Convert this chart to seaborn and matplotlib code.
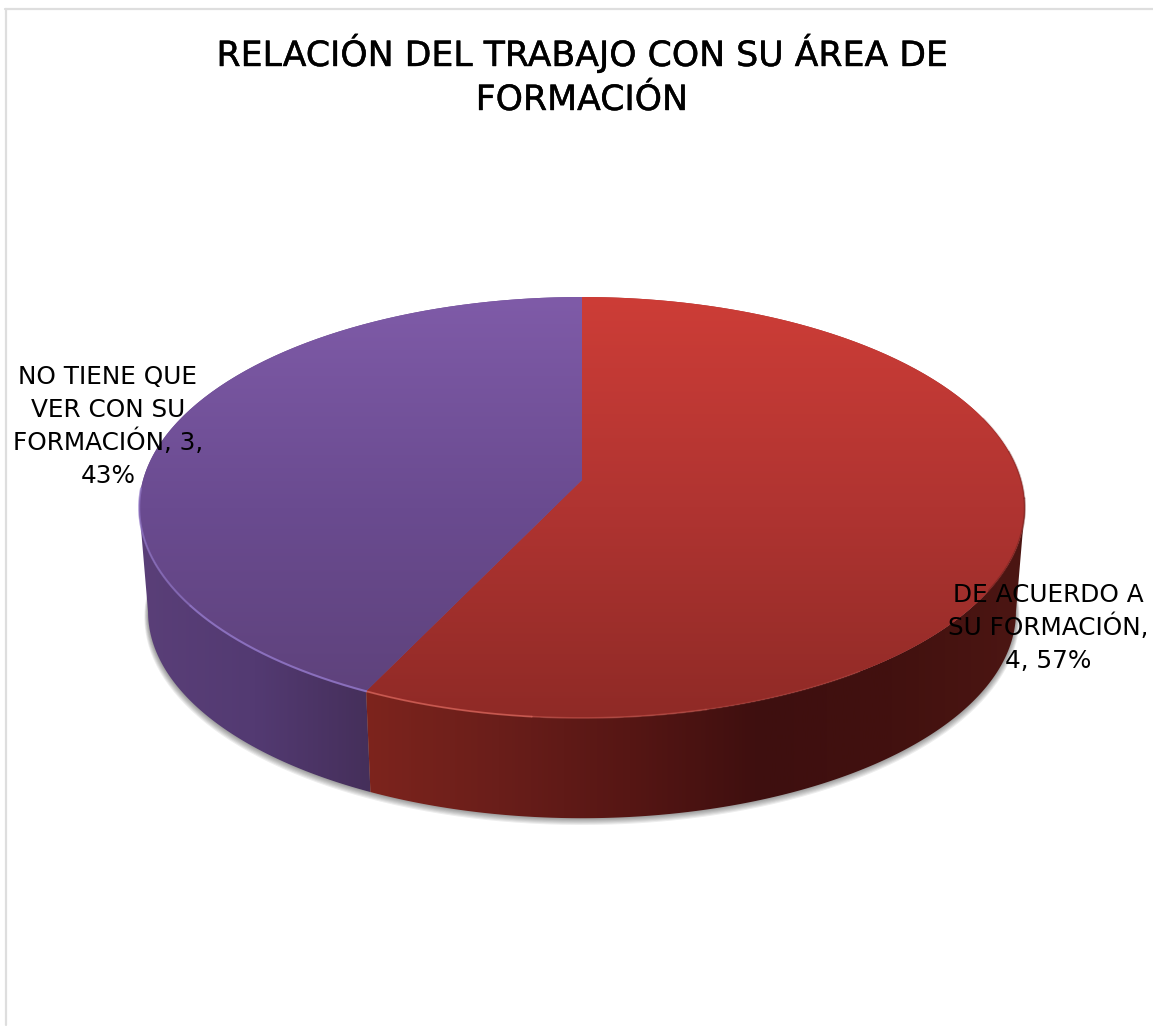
import numpy as np
import matplotlib
matplotlib.use("Agg")
import matplotlib.pyplot as plt
import matplotlib.patheffects as pe
from matplotlib.path import Path
from matplotlib.transforms import Transform
import seaborn as sns

title = "RELACIÓN DEL TRABAJO CON SU ÁREA DE\nFORMACIÓN"
categories = ["DE ACUERDO A\nSU FORMACIÓN", "NO TIENE QUE\nVER CON SU\nFORMACIÓN"]
values = [4, 3]
percents = [57, 43]
label_formats = ["{n},\n{v}, {p}%", "{n}, {v},\n{p}%"]
label_pos = [(1048, 602), (108, 384)]

W, H = 1153, 1026
CX, CY = 582, H - 480   # where the slices meet, in pixels from the bottom
RX, RY = 439, 206.9
TILT = 0.1306           # how much nearer the front edge looks
DEPTH = 105
BOTTOM_SCALE = 0.98
SIDE_ANGLE = 7.5        # rim angle below horizontal where the outline turns

sns.set_theme(style="white")
plt.rcParams['font.family'] = ['DejaVu Sans']

# top colour, bottom colour of each slice
top_cmaps = [sns.blend_palette(["#cd3d37", "#b03431", "#8f2a26"], as_cmap=True),
             sns.blend_palette(["#7f5ba8", "#6a4b90", "#5d4179"], as_cmap=True)]
# left colour, right colour of each wall
wall_cmaps = [sns.blend_palette(["#7d241d", "#6a1e1a", "#561614", "#3e0f0f", "#42110f", "#4c1613"], as_cmap=True),
              sns.blend_palette(["#5a3f78", "#533a72", "#452f5a"], as_cmap=True)]
rim_colors = ["#d9655b", "#8f74c4"]
mid_colors = ["#ab3330", "#6c4d91"]


class Perspective(Transform):
    input_dims = 2
    output_dims = 2
    is_separable = False
    has_inverse = False

    def __init__(self, drop=0, scale=1.0):
        super().__init__()
        self.drop = drop
        self.scale = scale

    def transform_non_affine(self, xy):
        xy = np.asarray(xy)
        w = 1 + TILT * xy[:, 1]
        x = CX + self.scale * RX * xy[:, 0] / w
        y = CY - self.drop + self.scale * RY * xy[:, 1] / w
        return np.column_stack([x, y])

    def transform_path_non_affine(self, path):
        # follow the curves point by point so the arcs stay smooth
        t = np.linspace(0, 1, 40)
        pts = np.vstack([seg(t) for seg, code in path.iter_bezier()])
        return Path(self.transform_non_affine(pts))


def rim(theta1, theta2, drop=0, scale=1.0):
    t = np.radians(np.linspace(theta1, theta2, 200))
    return Perspective(drop, scale).transform_non_affine(np.column_stack([np.cos(t), np.sin(t)]))


def lines(x, y, step, text, **kw):
    for i, line in enumerate(text.split("\n")):
        ax.text(x, H - (y + i * step), line, ha="center", va="baseline", color="black", zorder=10, **kw)


fig, ax = plt.subplots(figsize=(W / 100, H / 100), dpi=100)
fig.subplots_adjust(0, 0, 1, 1)
wedges, _ = ax.pie(values, colors=mid_colors, startangle=90, counterclock=False,
                   wedgeprops={"linewidth": 0})
ax.set_aspect("auto")
ax.axis("off")

# soft shadow under the pie
for i in range(1, 7):
    pts = rim(0, 360, DEPTH + i * 0.8, BOTTOM_SCALE + i * 0.0014)
    ax.fill(pts[:, 0], pts[:, 1], color="#000000", alpha=0.07, lw=0, zorder=1)

# walls, with a colour running left to right; only the front of the rim shows
split = wedges[0].theta1 % 360
wall_ranges = [(split - 360, -SIDE_ANGLE), (180 + SIDE_ANGLE, split)]
for i, (t1, t2) in enumerate(wall_ranges):
    upper = rim(t1, t2)
    lower = rim(t1, t2, DEPTH, BOTTOM_SCALE)
    outline = np.vstack([upper, lower[::-1]])
    poly = ax.fill(outline[:, 0], outline[:, 1], facecolor="none", lw=0, zorder=3 - i)[0]
    grad = np.linspace(0, 1, 256).reshape(1, -1)
    img = ax.imshow(grad, cmap=wall_cmaps[i], extent=(outline[:, 0].min(), outline[:, 0].max(), 0, H),
                    aspect="auto", zorder=3 - i)
    img.set_clip_path(poly)

# top surface
for i, wedge in enumerate(wedges):
    wedge.set_transform(Perspective() + ax.transData)
    wedge.set_zorder(5)
    grad = np.linspace(0, 1, 256).reshape(-1, 1)
    img = ax.imshow(grad, cmap=top_cmaps[i], extent=(0, W, H - 718, H - 297), aspect="auto", zorder=6)
    img.set_clip_path(wedge)

ax.set_aspect("auto")
ax.set_xlim(0, W)
ax.set_ylim(0, H)

# bevel on the front edge, fading out towards the sides
edge_start = wedges[0].theta1
for a, b, alpha in [(edge_start, edge_start + 20, 0.75), (edge_start + 20, edge_start + 40, 0.4),
                    (edge_start + 40, edge_start + 60, 0.2)]:
    pts = rim(a, b)
    ax.plot(pts[:, 0], pts[:, 1], color=rim_colors[0], lw=1.3, alpha=alpha, zorder=7)
for a, b, alpha in [(edge_start, edge_start - 30, 0.9), (edge_start - 30, edge_start - 62, 0.7)]:
    pts = rim(a, b)
    ax.plot(pts[:, 0], pts[:, 1], color=rim_colors[1], lw=1.5, alpha=alpha, zorder=7)
for a, b, alpha in [(-30, -5, 0.5), (-5, 8, 0.35), (8, 18, 0.18)]:
    pts = rim(a, b)
    ax.plot(pts[:, 0], pts[:, 1], color="#6a1f1c", lw=1.4, alpha=alpha, zorder=7)

# chart frame
ax.plot([5.5, 5.5], [1, H - 9], color="#dedede", lw=1.6, zorder=1)
ax.plot([5, W], [H - 9, H - 9], color="#dedede", lw=1.6, zorder=1)

lines(582, 66, 44, title, fontsize=25, path_effects=[pe.withStroke(linewidth=0.3, foreground="black")])

for name, v, p, fmt, (x, y) in zip(categories, values, percents, label_formats, label_pos):
    lines(x, y, 33, fmt.format(n=name, v=v, p=p), fontsize=17.8)

fig.savefig("out.png", dpi=100)
